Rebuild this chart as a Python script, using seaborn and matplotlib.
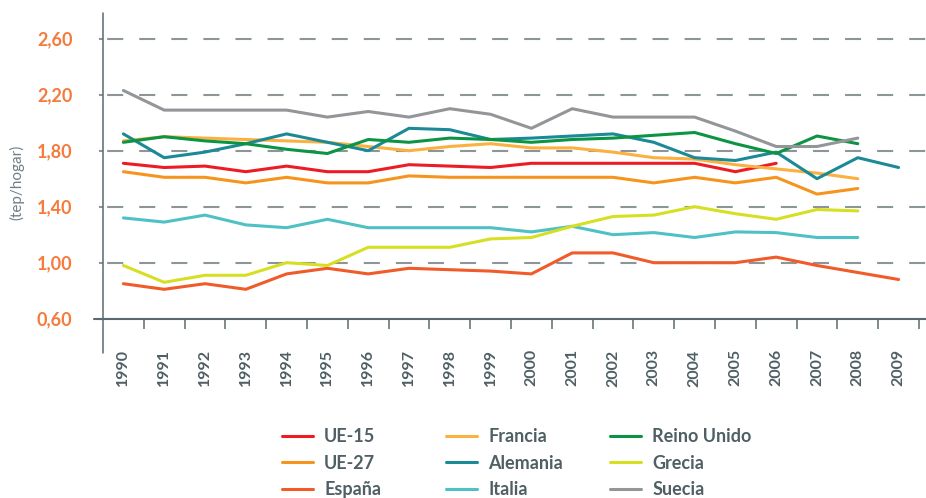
import numpy as np
import pandas as pd
import matplotlib
matplotlib.use("Agg")
import matplotlib.pyplot as plt
import seaborn as sns

nan = np.nan
years = list(range(1990, 2010))
year_labels = [str(y) for y in years]

ue15 = [1.71, 1.68, 1.69, 1.65, 1.69, 1.65, 1.65, 1.70, 1.69, 1.68,
        1.71, 1.71, 1.71, 1.71, 1.71, 1.65, 1.71, nan, nan, nan]
ue27 = [1.65, 1.61, 1.61, 1.57, 1.61, 1.57, 1.57, 1.62, 1.61, 1.61,
        1.61, 1.61, 1.61, 1.57, 1.61, 1.57, 1.61, 1.49, 1.53, nan]
espana = [0.85, 0.81, 0.85, 0.81, 0.92, 0.96, 0.92, 0.96, 0.95, 0.94,
          0.92, 1.07, 1.07, 1.00, 1.00, 1.00, 1.04, 0.98, 0.93, 0.88]
francia = [1.87, 1.90, 1.89, 1.88, 1.87, 1.86, 1.83, 1.80, 1.83, 1.85,
           1.82, 1.82, 1.79, 1.75, 1.74, 1.70, 1.67, 1.64, 1.60, nan]
alemania = [1.92, 1.75, 1.79, 1.85, 1.92, 1.86, 1.80, 1.96, 1.95, 1.88,
            1.89, 1.905, 1.92, 1.86, 1.75, 1.73, 1.79, 1.60, 1.75, 1.68]
italia = [1.32, 1.29, 1.34, 1.27, 1.25, 1.31, 1.25, 1.25, 1.25, 1.25,
          1.22, 1.26, 1.20, 1.215, 1.18, 1.22, 1.215, 1.18, 1.18, nan]
reino_unido = [1.86, 1.90, 1.87, 1.85, 1.81, 1.78, 1.88, 1.86, 1.89, 1.88,
               1.86, 1.88, 1.89, 1.91, 1.93, 1.85, 1.78, 1.905, 1.85, nan]
grecia = [0.98, 0.86, 0.91, 0.91, 1.00, 0.98, 1.11, 1.11, 1.11, 1.17,
          1.18, 1.26, 1.33, 1.34, 1.40, 1.35, 1.31, 1.38, 1.37, nan]
suecia = [2.23, 2.09, 2.09, 2.09, 2.09, 2.04, 2.08, 2.04, 2.10, 2.06,
          1.96, 2.10, 2.04, 2.04, 2.04, 1.94, 1.83, 1.83, 1.89, nan]

names = ["UE-15", "UE-27", "España", "Francia", "Alemania", "Italia",
         "Reino Unido", "Grecia", "Suecia"]
values = [ue15, ue27, espana, francia, alemania, italia, reino_unido, grecia, suecia]
colors = ["#ed1c24", "#f7941d", "#f15a29", "#fbb040", "#1b8a96", "#4fc1c5",
          "#0b9444", "#d7df23", "#939598"]

yticks = [0.60, 1.00, 1.40, 1.80, 2.20, 2.60]
ytick_labels = ["0,60", "1,00", "1,40", "1,80", "2,20", "2,60"]

rows = []
for n, vals in zip(names, values):
    for y, v in zip(years, vals):
        if not np.isnan(v):
            rows.append({"year": y, "value": v, "serie": n})
df = pd.DataFrame(rows)

sns.set_style("white")
plt.rcParams["font.family"] = ["Lato", "DejaVu Sans"]

axcol = "#5b6a6f"
gridcol = "#8c9598"
orange = "#f47b3b"
textcol = "#4f5f64"

W, H = 926, 498
fig = plt.figure(figsize=(W / 100, H / 100), dpi=100)
ax = fig.add_axes([103 / W, (H - 318.7) / H, (W - 103) / W, (318.7 - 13) / H])

sns.lineplot(data=df, x="year", y="value", hue="serie", hue_order=names,
             palette=dict(zip(names, colors)), linewidth=2.2, ax=ax,
             estimator=None, sort=True)

handles, labels = ax.get_legend_handles_labels()
if ax.get_legend() is not None:
    ax.get_legend().remove()
hmap = dict(zip(labels, handles))

xlo = years[0] - 0.5
ax.set_xlim(xlo, xlo + 823 / 40.8)
ax.set_ylim(0.6, 0.6 + (318.7 - 13) / 140)

for s in ax.spines.values():
    s.set_visible(False)

ax.set_xticks(years)
ax.set_xticklabels(year_labels, rotation=90, fontsize=11.5, fontweight="bold", color=textcol)
ax.set_xticks([y + 0.5 for y in years], minor=True)
ax.tick_params(axis="x", which="major", length=0, pad=22, bottom=True)
ax.tick_params(axis="x", which="minor", length=7.4, width=1.1, color=axcol,
               direction="out", bottom=True)

ax.set_yticks(yticks)
ax.set_yticklabels(ytick_labels, fontsize=13, fontweight="bold", color=orange)
ax.tick_params(axis="y", which="major", length=3, width=1.5, color=gridcol,
               pad=19, left=True)
ax.set_xlabel("")
ax.set_ylabel("")

# axis lines
ax.axvline(xlo, ymin=-(353 - 318.7) / 305.7, ymax=1, color=axcol, lw=1.1,
           clip_on=False, zorder=3)
ax.axhline(yticks[0], xmin=-9 / 823, xmax=1, color=axcol, lw=1.5,
           clip_on=False, zorder=3)
for v in yticks[1:]:
    ax.axhline(v, xmin=-9 / 823, xmax=1, color=gridcol, lw=1.5,
               ls=(9.1, (7.7, 7.7)), clip_on=False, zorder=0.5)

fig.text(17 / W, 1 - 182 / H, "(tep/hogar)", rotation=90, ha="center",
         va="center", fontsize=11, color="#6f7f84")

cols = [names[0:3], names[3:6], names[6:9]]
xs = [282, 446, 610]
for cnames, x0 in zip(cols, xs):
    fig.legend([hmap[n] for n in cnames], cnames, loc="center left",
               bbox_to_anchor=(x0 / W, 1 - 463.3 / H), frameon=False,
               borderpad=0, borderaxespad=0, handlelength=1.72,
               handletextpad=0.61, labelspacing=0.52,
               prop={"weight": "bold", "size": 13}, labelcolor=textcol)

fig.savefig("out.png", dpi=100)
